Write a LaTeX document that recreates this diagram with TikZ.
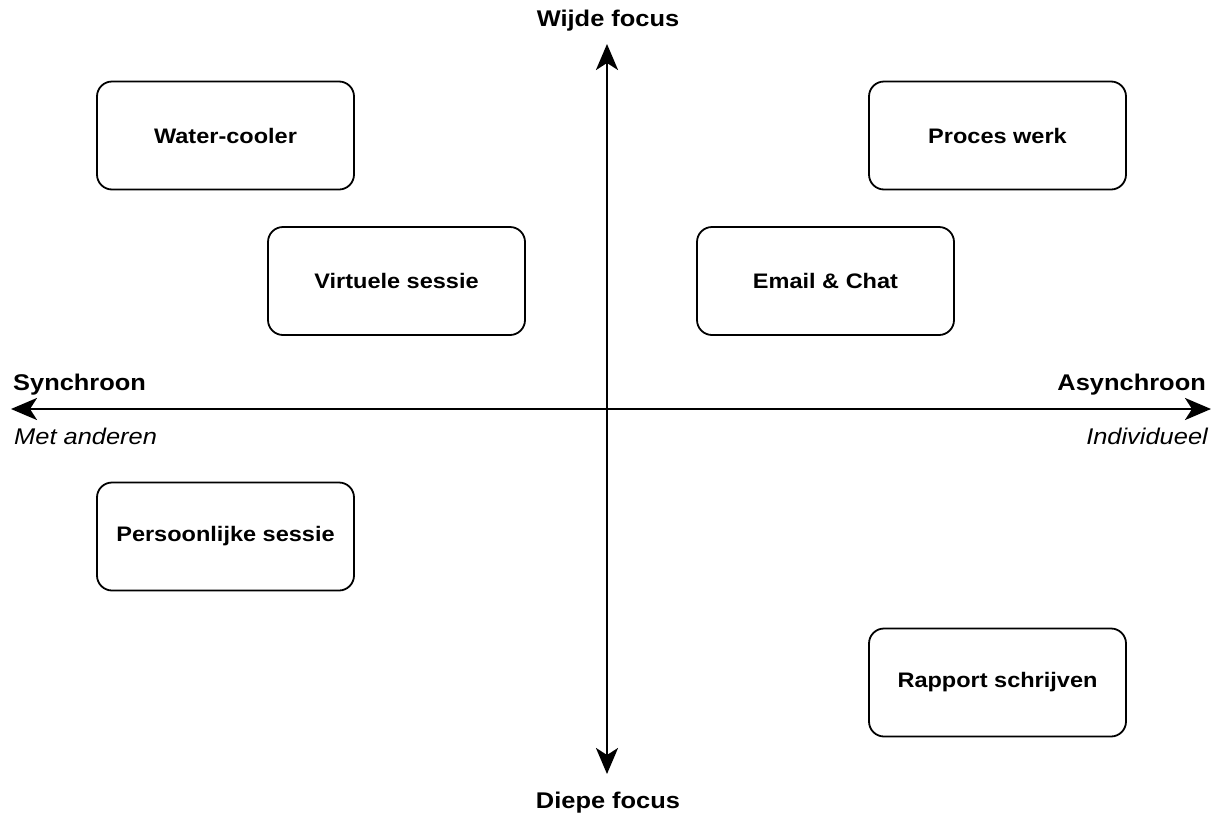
\documentclass[tikz,border=0pt]{standalone}
\usepackage{fontspec}
\setmainfont[FakeStretch=1.12]{Liberation Sans}
\usetikzlibrary{arrows.meta}
\begin{document}
\begin{tikzpicture}[x=1pt,y=-1pt,
  box/.style={draw=black, line width=1.8pt, rounded corners=15pt, minimum width=257pt, minimum height=108pt, font=\fontsize{21}{25}\selectfont\bfseries, fill=white},
  axis/.style={line width=2.8pt, {Stealth[length=26pt,width=22pt,inset=7pt]}-{Stealth[length=26pt,width=22pt,inset=7pt]}},
  lbl/.style={font=\fontsize{22.7}{27}\selectfont\bfseries, inner sep=0pt},
  sub/.style={font=\fontsize{22.7}{27}\selectfont\itshape, inner sep=0pt}]
\useasboundingbox (0,0) rectangle (1214,817);
\coordinate (L) at (11,409);
\coordinate (R) at (1211,409);
\coordinate (T) at (607,44);
\coordinate (B) at (607,774);
\draw[axis] (L) -- (R);
\draw[axis] (B) -- (T);
\node[lbl, anchor=base] (wf) at (608,26) {Wijde focus};
\node[lbl, anchor=base] (df) at (608,808) {Diepe focus};
\node[lbl, anchor=base west] (sy) at (13,390) {Synchroon};
\node[lbl, anchor=base east] (as) at (1206,390) {Asynchroon};
\node[sub, anchor=base west] (ma) at (14,444) {Met anderen};
\node[sub, anchor=base east] (in) at (1208,444) {Individueel};
\node[box] (wc) at (225.5,135.5) {Water-cooler};
\node[box] (pw) at (997.5,135.5) {Proces werk};
\node[box] (vs) at (396.5,281) {Virtuele sessie};
\node[box] (ec) at (825.5,281) {Email \& Chat};
\node[box] (ps) at (225.5,536.5) {Persoonlijke sessie};
\node[box] (rs) at (997.5,682.5) {Rapport schrijven};
\end{tikzpicture}
\end{document}
